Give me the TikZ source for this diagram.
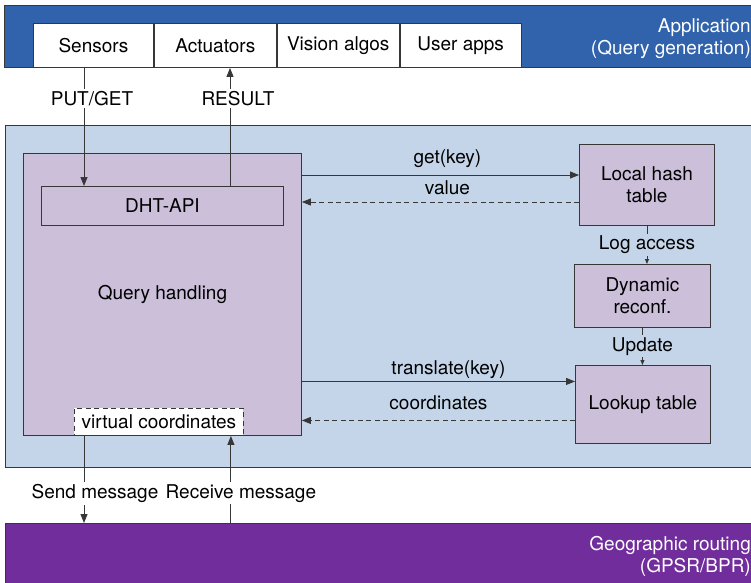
\documentclass[tikz,border=0pt]{standalone}
\usepackage{fontspec}
\setmainfont{TeX Gyre Heros}
\usetikzlibrary{arrows.meta}
\usetikzlibrary{positioning}

\definecolor{appblue}{RGB}{49,99,173}
\definecolor{dhtblue}{RGB}{196,213,234}
\definecolor{boxlilac}{RGB}{203,191,217}
\definecolor{geopurple}{RGB}{114,45,157}
\definecolor{edge}{RGB}{55,55,55}

\tikzset{
  band/.style={draw=edge, line width=1.4pt, anchor=north west, inner sep=0pt},
  appbox/.style={draw=edge, line width=0.9pt, fill=white, minimum height=44pt, inner sep=0pt, anchor=north west},
  lilac/.style={draw=edge, line width=0.9pt, fill=boxlilac, inner sep=0pt, align=center, anchor=north west},
  msg/.style={draw=edge, line width=0.9pt, -{Triangle[length=9pt,width=7pt]}},
  smallmsg/.style={draw=edge, line width=0.9pt, -{Triangle[length=5pt,width=4pt]}},
  reply/.style={dash pattern=on 5pt off 3.5pt},
  cut/.style={inner sep=2pt}
}

\begin{document}
\begin{tikzpicture}[x=1pt,y=-1pt,font=\fontsize{19}{22}\selectfont]
\useasboundingbox (0,0) rectangle (751,582);
% layers
\node[band, fill=appblue, minimum width=780pt, minimum height=62pt] (app) at (4,5) {};
\node[band, fill=dhtblue, minimum width=780pt, minimum height=342pt] (dht) at (5,125) {};
\node[band, fill=geopurple, minimum width=780pt, minimum height=80pt] (geo) at (5,523) {};
\node[anchor=east, align=right, text=white, inner sep=0pt] (applbl) at (751,39) {Application\\(Query generation)};
\node[anchor=east, align=right, text=white, inner sep=0pt] (geolbl) at (751,556) {Geographic routing\\(GPSR/BPR)};
% application boxes
\node[appbox, minimum width=120pt] (sensors) at (33,23) {Sensors};
\node[appbox, minimum width=122pt, right=0pt of sensors] (actuators) {Actuators};
\node[appbox, minimum width=122pt, right=0pt of actuators] (vision) {Vision algos};
\node[appbox, minimum width=121pt, right=0pt of vision] (userapps) {User apps};
% dht layer
\node[lilac, minimum width=278pt, minimum height=282pt] (query) at (23,153) {Query handling};
\node[lilac, minimum width=242pt, minimum height=39pt] (api) at (41,186) {DHT-API};
\node[lilac, fill=white, reply, minimum width=169pt, minimum height=27pt] (vc) at (74,408) {virtual coordinates};
\node[lilac, minimum width=135pt, minimum height=81pt] (lht) at (579,144) {Local hash\\table};
\node[lilac, minimum width=136pt, minimum height=63pt] (dyn) at (574,264) {Dynamic\\reconf.};
\node[lilac, minimum width=135pt, minimum height=78pt] (lookup) at (575,365) {Lookup table};
% up and down
\coordinate (pg) at ([xshift=51pt]sensors.south west);
\coordinate (res) at ([xshift=189pt]api.north west);
\draw[msg] (pg) -- (pg |- api.north) node[cut, pos=0.26, fill=white, xshift=8pt] {PUT/GET};
\draw[msg] (res) -- (res |- actuators.south) node[cut, pos=0.74, fill=white, xshift=8pt] {RESULT};
\coordinate (send) at ([xshift=10pt]vc.south west);
\coordinate (recv) at ([xshift=-13pt]vc.south east);
\draw[msg] (send) -- (send |- geo.north) node[cut, pos=0.66, fill=white, xshift=11pt] {Send message};
\draw[msg] (recv |- geo.north) -- (recv) node[cut, pos=0.34, fill=white, xshift=10pt] {Receive message};
% requests
\coordinate (getA) at ([yshift=-22pt]query.north east);
\coordinate (valB) at ([yshift=-58pt]lht.north west);
\draw[msg] (getA) -- (getA -| lht.west) node[midway, above, inner sep=7pt, xshift=7pt] {get(key)};
\draw[msg, reply] (valB) -- (valB -| query.east) node[midway, above, inner sep=7pt, xshift=7pt] {value};
\coordinate (trB) at ([yshift=23pt]lookup.west);
\coordinate (coB) at ([yshift=-16pt]lookup.west);
\draw[msg] (trB -| query.east) -- (trB) node[midway, above, inner sep=2pt, xshift=10pt] {translate(key)};
\draw[msg, reply] (coB) -- (coB -| query.east) node[midway, above, inner sep=10pt] {coordinates};
% reconfiguration
\draw[smallmsg] (lht.south) -- (lht.south |- dyn.north) node[cut, midway, fill=dhtblue] {Log access};
\draw[smallmsg] (dyn.south) -- (dyn.south |- lookup.north) node[cut, midway, fill=dhtblue] {Update};
\end{tikzpicture}
\end{document}
